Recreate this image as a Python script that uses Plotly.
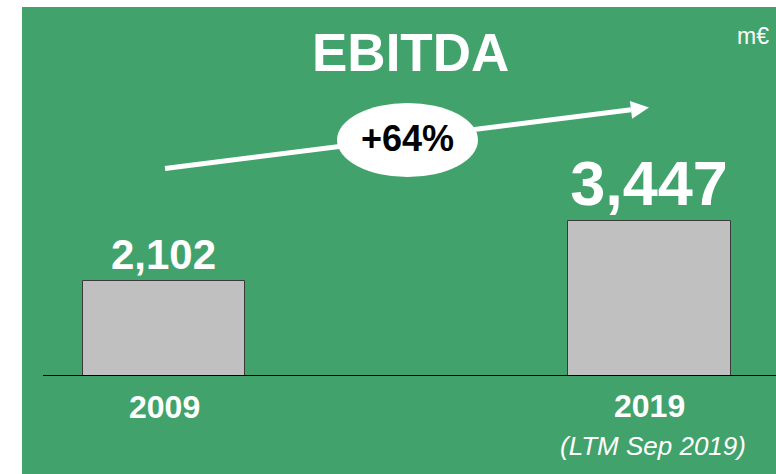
import plotly.graph_objects as go

# ---- data ----
categories = ["2009", "2019"]
ebitda = [2102, 3447]
label_sizes = [42, 63]
sub_label = "(LTM Sep 2019)"
growth_label = "+64%"
title_text = "EBITDA"
unit_text = "m€"

GREEN = "rgb(65,163,107)"
FONT = "Arial, Liberation Sans, sans-serif"

W, H = 776, 474
L, R, T, B = 22, 0, 7, 98
PW, PH = W - L - R, H - T - B


def X(px):
    return (px - L) / PW


def Y(py):
    return (H - B - py) / PH


fig = go.Figure()
fig.add_trace(go.Bar(
    x=categories, y=ebitda, width=0.334,
    marker=dict(color="#C0C0C0", line=dict(color="#3a3a3a", width=1)),
    texttemplate="<b>%{y:,}</b>", textposition="outside",
    textfont=dict(color="white", size=label_sizes, family=FONT),
    constraintext="none", cliponaxis=False, hoverinfo="skip",
))

shapes = [
    # green background panel
    dict(type="rect", xref="paper", yref="paper", x0=0, x1=1, y0=Y(H), y1=Y(T),
         fillcolor=GREEN, line=dict(width=0), layer="below"),
    # baseline
    dict(type="line", xref="paper", yref="y", x0=X(43), x1=1, y0=0, y1=0,
         line=dict(color="black", width=2), layer="above"),
    # arrow shaft
    dict(type="line", xref="paper", yref="paper", x0=X(165), y0=Y(168.5), x1=X(631), y1=Y(109.8),
         line=dict(color="white", width=5), layer="above"),
    # arrow head
    dict(type="path", xref="paper", yref="paper",
         path=f"M {X(649)},{Y(107.5)} L {X(632.1)},{Y(118.7)} L {X(629.9)},{Y(100.9)} Z",
         fillcolor="white", line=dict(width=0), layer="above"),
    # ellipse
    dict(type="circle", xref="paper", yref="paper", x0=X(337), x1=X(478), y0=Y(177), y1=Y(103),
         fillcolor="white", line=dict(width=0), layer="above"),
]

annotations = [
    dict(text=f"<b>{title_text}</b>", x=X(411), y=Y(52), font=dict(size=53, color="white", family=FONT)),
    dict(text=unit_text, x=X(753), y=Y(36), font=dict(size=23, color="white", family=FONT)),
    dict(text=f"<b>{growth_label}</b>", x=X(407), y=Y(138), font=dict(size=36, color="black", family=FONT)),
    dict(text=f"<b>{categories[0]}</b>", x=0, xref="x", y=Y(407),
         font=dict(size=32, color="white", family=FONT)),
    dict(text=f"<b>{categories[1]}</b>", x=1, xref="x", y=Y(406),
         font=dict(size=32, color="white", family=FONT)),
    dict(text=f"<i>{sub_label}</i>", x=1, xref="x", xshift=4, y=Y(446),
         font=dict(size=26, color="white", family=FONT)),
]
for a in annotations:
    a.setdefault("xref", "paper")
    a["yref"] = "paper"
    a["showarrow"] = False
    a["xanchor"] = "center"
    a["yanchor"] = "middle"

fig.update_layout(
    width=W, height=H,
    margin=dict(l=L, r=R, t=T, b=B, pad=0),
    paper_bgcolor="white", plot_bgcolor="rgba(0,0,0,0)",
    showlegend=False,
    xaxis=dict(type="category", range=[-0.2925, 1.2606], showticklabels=False,
               showgrid=False, zeroline=False, showline=False, ticks=""),
    yaxis=dict(range=[0, 369 * 22.17], visible=False, showgrid=False, zeroline=False),
    shapes=shapes, annotations=annotations,
    bargap=0,
)

fig.write_html("out.html", config={"displayModeBar": False},
               post_script="document.body.style.margin='0';")
